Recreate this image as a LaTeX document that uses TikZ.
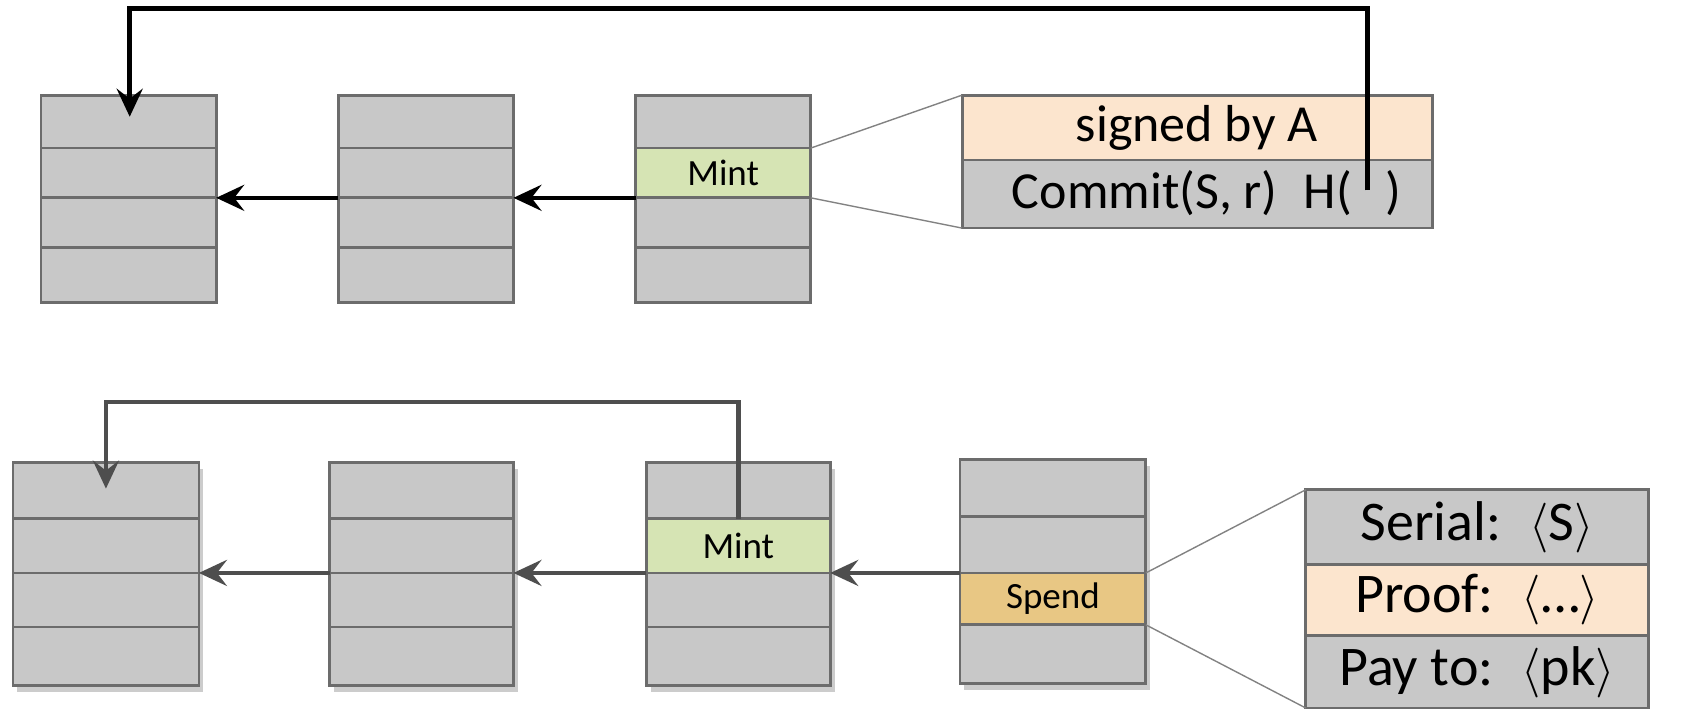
\documentclass[tikz,border=0pt]{standalone}
\usepackage{fontspec}
\setmainfont{Carlito}
\usetikzlibrary{arrows.meta,calc}
\definecolor{cellgray}{RGB}{200,200,200}
\definecolor{cellline}{RGB}{108,108,108}
\definecolor{mintgreen}{RGB}{214,228,180}
\definecolor{peach}{RGB}{252,229,206}
\definecolor{spendtan}{RGB}{232,199,132}
\definecolor{darkarrow}{RGB}{78,78,78}
\definecolor{zoomline}{RGB}{130,130,130}
\newcommand\pxu{0.5405pt}
\tikzset{
  cell/.style={draw=cellline, line width=1.4pt, inner sep=0pt, outer sep=0pt, text=black},
  linkarrow/.style={line width=2.2pt, -{Stealth[length=14pt,width=13pt,inset=5pt]}},
  zoomedge/.style={draw=zoomline, line width=0.7pt},
  shade/.style={fill=black, opacity=0.2},
  smalltext/.style={font=\fontsize{18.5}{21}\selectfont},
  toptext/.style={font=\fontsize{26}{30}\selectfont},
  bigtext/.style={font=\fontsize{28}{32}\selectfont},
}
\begin{document}
\begin{tikzpicture}[x=\pxu, y=-\pxu]
\useasboundingbox (0,0) rectangle (1568,656);

% ---------- upper chain ----------
\foreach \b/\xa/\xb in {1/38/200, 2/313/475, 3/588/750}{
  \foreach \r/\ya/\yb in {1/88/137, 2/137/183, 3/183/229, 4/229/280}{
    \node[cell, fill=cellgray, minimum width={(\xb-\xa)*\pxu}, minimum height={(\yb-\ya)*\pxu}]
      (t\b r\r) at ({(\xa+\xb)/2},{(\ya+\yb)/2}) {};
  }
}
\node[cell, fill=mintgreen, minimum width={162*\pxu}, minimum height={46*\pxu}, smalltext]
  (tmint) at (669,160) {Mint};

\draw[linkarrow] (t3r2.south west) -- (t2r2.south east);
\draw[linkarrow] (t2r2.south west) -- (t1r2.south east);

% detail of the upper mint entry
\node[cell, fill=peach, minimum width={435*\pxu}, minimum height={60*\pxu}] (tsig) at (1107.5,118) {};
\node[cell, fill=cellgray, minimum width={435*\pxu}, minimum height={63*\pxu}] (tcom) at (1107.5,179.5) {};
\node[toptext, anchor=base] (tsigtext) at (1107,131) {signed by A};
\node[toptext, anchor=base east, inner sep=0pt] (tcomtext) at (1251,193) {Commit(S, r)\enspace H(};
\node[toptext, anchor=base west, inner sep=0pt] (tclose) at (1281,193) {)};
\draw[zoomedge] (tmint.north east) -- (tsig.north west);
\draw[zoomedge] (tmint.south east) -- (tcom.south west);

% hash pointer back to the first block
\coordinate (hgap) at (1265,176);
\coordinate (ttarget) at (120,108);
\draw[linkarrow, line width=2.4pt, line join=miter] (hgap) -- (hgap |- 0,8) -- (ttarget |- 0,8) -- (ttarget);

% ---------- lower chain ----------
\foreach \xa/\xb/\ya/\yb in {12/184/428/634, 305/475/428/634, 598/768/428/634, 888/1060/425/632}{
  \fill[shade] (\xa+4,\ya+6) rectangle (\xb+4,\yb+6);
}
\foreach \b/\xa/\xb in {1/12/184, 2/305/475, 3/598/768}{
  \foreach \r/\ya/\yb in {1/428/480, 2/480/530, 3/530/580, 4/580/634}{
    \node[cell, fill=cellgray, minimum width={(\xb-\xa)*\pxu}, minimum height={(\yb-\ya)*\pxu}]
      (b\b r\r) at ({(\xa+\xb)/2},{(\ya+\yb)/2}) {};
  }
}
\foreach \r/\ya/\yb in {1/425/478, 2/478/530, 3/530/578, 4/578/632}{
  \node[cell, fill=cellgray, minimum width={172*\pxu}, minimum height={(\yb-\ya)*\pxu}]
    (b4r\r) at (974,{(\ya+\yb)/2}) {};
}
\node[cell, fill=mintgreen, minimum width={170*\pxu}, minimum height={50*\pxu}, smalltext]
  (bmint) at (683,505) {Mint};
\node[cell, fill=spendtan, minimum width={172*\pxu}, minimum height={48*\pxu}, smalltext]
  (bspend) at (974,554) {Spend};

\draw[linkarrow, darkarrow] (bspend.north west) -- (bmint.south east);
\draw[linkarrow, darkarrow] (bmint.south west) -- (b2r2.south east);
\draw[linkarrow, darkarrow] (b2r2.south west) -- (b1r2.south east);

% back reference from the mint entry
\coordinate (btarget) at (98,452);
\draw[linkarrow, darkarrow, line join=miter] (bmint.north) -- (bmint.north |- 0,372) -- (btarget |- 0,372) -- (btarget);

% detail of the spend entry
\node[cell, fill=cellgray, minimum width={317*\pxu}, minimum height={69*\pxu}, bigtext] (bser) at (1366.5,487.5)
  {Serial:\enspace$\langle$S$\rangle$};
\node[cell, fill=peach, minimum width={317*\pxu}, minimum height={66*\pxu}, bigtext] (bproof) at (1366.5,555)
  {Proof:\enspace$\langle$\dots$\rangle$};
\node[cell, fill=cellgray, minimum width={317*\pxu}, minimum height={67*\pxu}, bigtext] (bpay) at (1366.5,621.5)
  {Pay to:\enspace$\langle$pk$\rangle$};
\draw[zoomedge] (bspend.north east) -- (bser.north west);
\draw[zoomedge] (bspend.south east) -- (bpay.south west);
\end{tikzpicture}
\end{document}
